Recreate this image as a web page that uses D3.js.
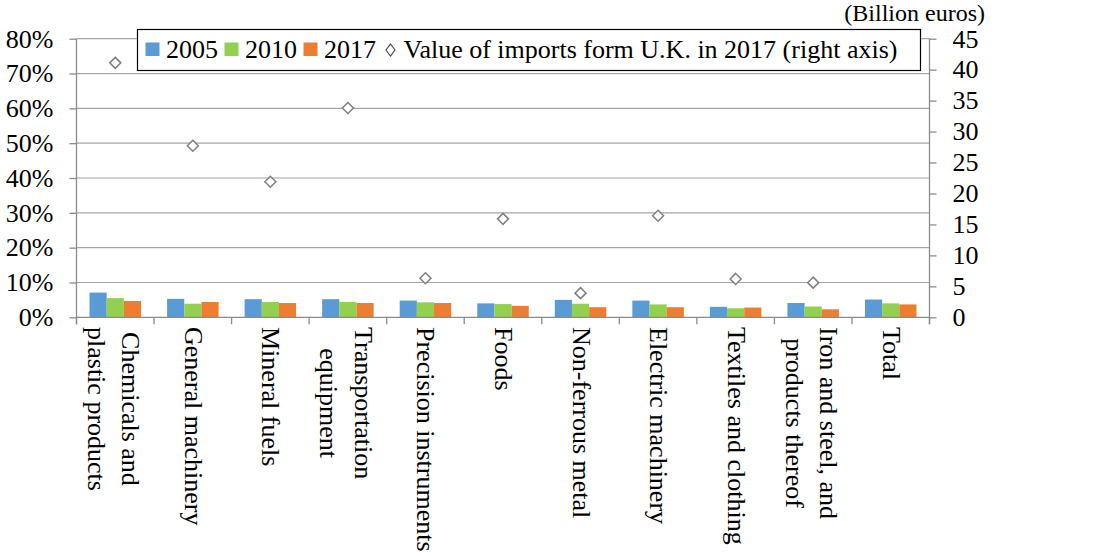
<!DOCTYPE html>
<html><head><meta charset="utf-8">
<script src="https://cdn.jsdelivr.net/npm/d3@7"></script>
<style>body{margin:0;background:#fff}svg{display:block}text{font-family:'Liberation Serif','Times New Roman',Times,'DejaVu Serif',serif !important;fill:#000}</style>
</head><body><svg id="c" width="1118" height="556"></svg>
<script>
const categories = [["Chemicals and","plastic products"],["General machinery"],["Mineral fuels"],["Transportation","equipment"],["Precision instruments"],["Foods"],["Non-ferrous metal"],["Electric machinery"],["Textiles and clothing"],["Iron and steel, and","products thereof"],["Total"]];
const seriesNames = ["2005","2010","2017"];
const share2005 = [7.1,5.3,5.2,5.2,4.8,4.0,5.0,4.8,3.0,4.1,5.1];
const share2010 = [5.5,3.9,4.4,4.4,4.3,3.8,3.9,3.7,2.6,3.1,4.0];
const share2017 = [4.7,4.4,4.1,4.1,4.1,3.3,2.9,2.9,2.8,2.3,3.7];
const importsUK = [41.1,27.7,21.9,33.8,6.3,15.9,3.9,16.4,6.2,5.6,null];
const leftTicks = [0,10,20,30,40,50,60,70,80];
const rightTicks = [0,5,10,15,20,25,30,35,40,45];
const colors = ["#5B9BD5","#92D050","#ED7D31"];
const legendLabel = "Value of imports form U.K. in 2017 (right axis)";
const unitLabel = "(Billion euros)";

const FONT = "'Liberation Serif','Times New Roman',Times,'DejaVu Serif',serif";
const svg = d3.select("#c");
const L = 76.5, R = 929.5, T = 38.7, B = 317.3;
const idx = categories.map((d,i)=>i);
const x = d3.scaleBand().domain(idx).range([L,R]).padding(0);
const x1 = d3.scaleBand().domain([0,1,2]).range([0.168*x.bandwidth(), 0.832*x.bandwidth()]);
const y = d3.scaleLinear().domain([0,80]).range([B,T]);
const y2 = d3.scaleLinear().domain([0,45]).range([B,T]);
const FS = 26;

// gridlines
svg.append("g").selectAll("line").data(leftTicks.slice(1)).join("line")
  .attr("x1",L).attr("x2",R).attr("y1",d=>y(d)).attr("y2",d=>y(d))
  .attr("stroke","#a6a6a6").attr("stroke-width",1.2);

// left axis
const gl = svg.append("g").attr("transform",`translate(${L},0)`)
  .call(d3.axisLeft(y).tickValues(leftTicks).tickSize(7).tickPadding(16).tickFormat(d=>d+"%"));
gl.attr("font-family",FONT).attr("font-size",FS);
gl.select(".domain").remove();
gl.append("line").attr("x1",0).attr("x2",0).attr("y1",T).attr("y2",B+7).attr("stroke","#8c8c8c").attr("stroke-width",1.3);
gl.selectAll(".tick line").attr("stroke","#8c8c8c").attr("stroke-width",1.3);
gl.selectAll(".tick text").attr("fill","#000");

// right axis
const gr = svg.append("g").attr("transform",`translate(${R},0)`)
  .call(d3.axisRight(y2).tickValues(rightTicks).tickSize(7).tickPadding(16));
gr.attr("font-family",FONT).attr("font-size",FS);
gr.select(".domain").remove();
gr.append("line").attr("x1",0).attr("x2",0).attr("y1",T).attr("y2",B+7).attr("stroke","#8c8c8c").attr("stroke-width",1.3);
gr.selectAll(".tick line").attr("stroke","#8c8c8c").attr("stroke-width",1.3);
gr.selectAll(".tick text").attr("fill","#000");

// bars
const series = [share2005, share2010, share2017];
series.forEach((arr,s)=>{
  svg.append("g").selectAll("rect").data(arr).join("rect")
    .attr("x",(d,i)=>x(i)+x1(s)).attr("width",x1.bandwidth())
    .attr("y",d=>y(d)).attr("height",d=>y(0)-y(d)).attr("fill",colors[s]);
});

// baseline axis
svg.append("line").attr("x1",L).attr("x2",R).attr("y1",B).attr("y2",B).attr("stroke","#8c8c8c").attr("stroke-width",1.3);
svg.append("g").selectAll("line").data(d3.range(categories.length+1)).join("line")
  .attr("x1",d=>L+d*x.bandwidth()).attr("x2",d=>L+d*x.bandwidth())
  .attr("y1",B).attr("y2",B+7).attr("stroke","#8c8c8c").attr("stroke-width",1.3);

// diamonds
const dia = (cx,cy,w,h)=>`M${cx},${cy-h}L${cx+w},${cy}L${cx},${cy+h}L${cx-w},${cy}Z`;
svg.append("g").selectAll("path").data(importsUK.map((v,i)=>({v,i})).filter(d=>d.v!=null)).join("path")
  .attr("d",d=>dia(x(d.i)+x.bandwidth()/2, y2(d.v), 5.5, 5.5))
  .attr("fill","#fff").attr("stroke","#7f7f7f").attr("stroke-width",1.5);

// category labels (rotated)
const labTop = 327, lineGap = 34.5;
categories.forEach((lines,i)=>{
  const cx = x(i)+x.bandwidth()/2;
  const n = lines.length;
  const g = svg.append("g");
  const texts = lines.map((t,k)=>{
    const base = n===1 ? cx-8 : (k===0 ? cx+7 : cx+7-lineGap);
    return g.append("text").text(t).attr("font-family",FONT).style("font-size",FS+"px").attr("text-anchor","middle").datum(base);
  });
  const maxLen = d3.max(texts, t=>t.node().getComputedTextLength());
  texts.forEach(t=>{
    const base = t.datum();
    t.attr("transform",`translate(${base},${labTop+maxLen/2}) rotate(90)`);
  });
});

// legend
const lg = svg.append("g").attr("font-family",FONT);
lg.append("rect").attr("x",137.5).attr("y",29.5).attr("width",783).attr("height",41)
  .attr("fill","#fff").attr("stroke","#000").attr("stroke-width",1.2);
let lx = 145.5;
const ly = 57.5;
seriesNames.forEach((nm,s)=>{
  lg.append("rect").attr("x",lx).attr("y",42.5).attr("width",14).attr("height",13.5).attr("fill",colors[s]);
  const t = lg.append("text").attr("x",lx+20.5).attr("y",ly).style("font-size",FS+"px").text(nm);
  lx = lx + 20.5 + t.node().getComputedTextLength() + 6.5;
});
lg.append("path").attr("d",dia(lx+8,50,4.5,6)).attr("fill","#fff").attr("stroke","#444").attr("stroke-width",1.1);
lg.append("text").attr("x",lx+21).attr("y",ly).style("font-size",FS+"px").text(legendLabel);

// unit label
svg.append("text").attr("x",985).attr("y",21).attr("text-anchor","end").attr("font-family",FONT).style("font-size","24px").text(unitLabel);
</script></body></html>
